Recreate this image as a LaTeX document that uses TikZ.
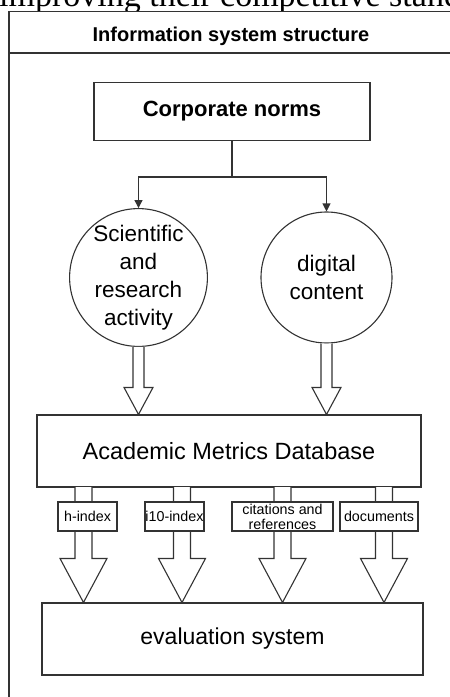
\documentclass[tikz,border=0pt]{standalone}
\usepackage{fontspec}
\setmainfont{Liberation Sans}
\newfontfamily\seriffont{Liberation Serif}
\usetikzlibrary{calc,arrows.meta}
\tikzset{
  ln/.style={draw=black!80, line width=1.1pt},
  box/.style={ln, fill=white, rectangle, inner sep=0pt, align=center},
  circ/.style={ln, circle, fill=white, minimum size=131pt, inner sep=0pt, align=center,
    font=\fontsize{22.5}{28}\selectfont},
  lbl/.style={ln, fill=white, rectangle, inner sep=0pt, align=center, minimum height=29pt,
    font=\fontsize{14.3}{15}\selectfont},
  conn/.style={ln, -{Triangle[length=8pt,width=8pt]}},
  blk/.style={ln, fill=white, line join=miter},
}
% top point, bottom point, shaft half width, head half width, head length
\newcommand{\blkarrow}[5]{%
  \draw[blk] let \p1=(#1), \p2=(#2) in
    (\x1-#3pt,\y1) -- (\x1-#3pt,\y2+#5pt) -- (\x1-#4pt,\y2+#5pt) -- (\x1,\y2)
    -- (\x1+#4pt,\y2+#5pt) -- (\x1+#3pt,\y2+#5pt) -- (\x1+#3pt,\y1);
}
\begin{document}
\begin{tikzpicture}[x=1pt,y=-1pt]
\useasboundingbox (0,0) rectangle (450,697);
\fill[white] (0,0) rectangle (450,697);
\clip (0,0) rectangle (450,697);

% cut-off running text above the figure
\begin{scope}
  \clip (0,0) rectangle (450,10);
  \node[anchor=base west, inner sep=0pt, font=\seriffont\fontsize{34}{34}\selectfont] (runtext) at (-1,6.5) {improving their competitive standards};
\end{scope}

% frame
\draw[ln] (9,760) -- (9,11.5) -- (480,11.5);
\draw[ln] (9,53) -- (480,53);
\node[anchor=base, inner sep=0pt, font=\bfseries\fontsize{20}{24}\selectfont] (title) at (231,41.7) {Information system structure};

% corporate norms
\node[box, minimum width=276pt, minimum height=58pt, font=\bfseries\fontsize{22}{26}\selectfont] (corp) at (232,111.5) {Corporate norms};

% circles
\node[circ] (sci) at (138.5,277.5) {Scientific\\and\\research\\activity};
\node[circ] (dig) at (326.5,277.5) {digital\\content};

% connectors
\draw[ln] (corp.south) -- (232,177) coordinate (split);
\draw[conn] (split) -| (sci.north);
\draw[conn] (split) -| (dig.north);

% database
\node[box, minimum width=384pt, minimum height=72pt, font=\fontsize{23.5}{28}\selectfont] (db) at (229,451) {Academic Metrics Database};

% block arrows circles -> db
\blkarrow{sci.south}{sci.south |- db.north}{5.5}{14.5}{27}
\blkarrow{dig.south}{dig.south |- db.north}{5.5}{14.5}{27}

% evaluation system
\node[box, minimum width=381pt, minimum height=72pt, font=\fontsize{23}{28}\selectfont] (ev) at (232.5,639) {evaluation system};

% block arrows db -> evaluation
\coordinate (a1) at (83.5,487);
\coordinate (a2) at (182,487);
\coordinate (a3) at (282.5,487);
\coordinate (a4) at (384,487);
\blkarrow{a1}{a1 |- ev.north}{8.5}{23.5}{44}
\blkarrow{a2}{a2 |- ev.north}{8.5}{23.5}{44}
\blkarrow{a3}{a3 |- ev.north}{8.5}{23.5}{44}
\blkarrow{a4}{a4 |- ev.north}{8.5}{23.5}{44}

% labels
\node[lbl, minimum width=59pt] (hidx) at (87.5,516.5) {h-index};
\node[lbl, minimum width=59pt] (iidx) at (174.5,516.5) {i10-index};
\node[lbl, minimum width=101pt] (cit) at (282.5,516.5) {citations and\\references};
\node[lbl, minimum width=78pt] (docs) at (379,516.5) {documents};
\end{tikzpicture}
\end{document}
